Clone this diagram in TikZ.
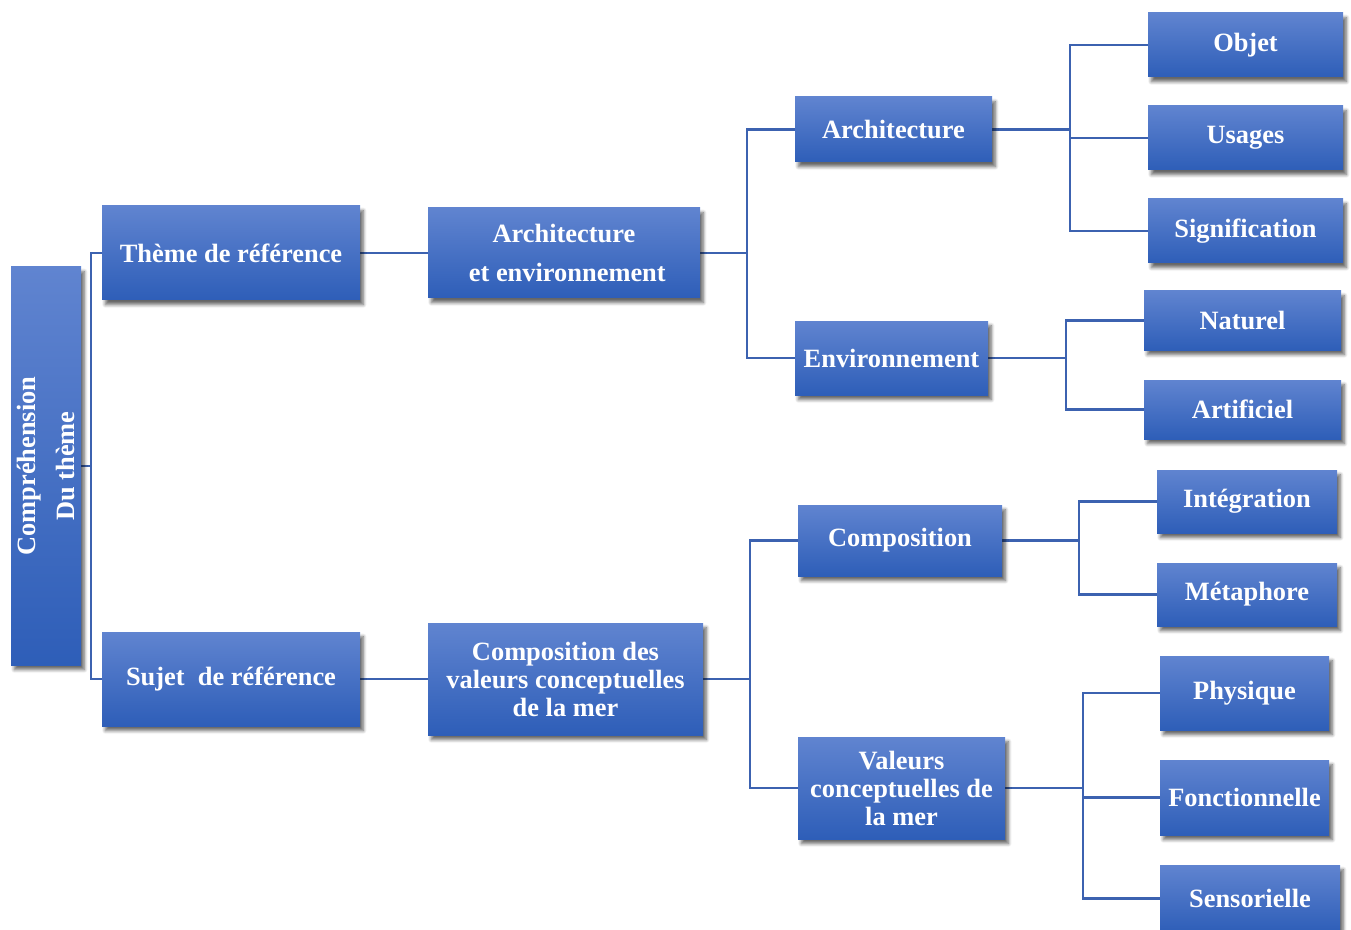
\documentclass[tikz,border=0pt]{standalone}
\usepackage{fontspec}
\setmainfont{Liberation Serif}
\usetikzlibrary{shadows.blur,backgrounds}
\definecolor{boxtop}{RGB}{96,132,208}
\definecolor{boxbot}{RGB}{46,94,184}
\definecolor{linkc}{RGB}{60,98,176}
\tikzset{
  box/.style={shade, top color=boxtop, bottom color=boxbot, draw=none,
    text=white, align=center, inner sep=0pt,
    font=\bfseries\fontsize{19.8}{21}\selectfont,
    blur shadow={shadow xshift=2.5pt, shadow yshift=-3.5pt, shadow blur steps=6,
      shadow opacity=60, shadow blur radius=2.5pt}},
  wide/.style={font=\bfseries\fontsize{19.8}{29}\selectfont},
  conn/.style={draw=linkc, line width=1.7pt}
}
% \tbox[opts]{name}{left}{top}{right}{bottom}{text}
\newcommand\tbox[7][]{%
  \node[box,#1, minimum width={(#5-#3)*0.75pt}, minimum height={(#6-#4)*0.75pt}]
    (#2) at ({(#3+#5)/2},{(#4+#6)/2}) {#7};}
\begin{document}
\begin{tikzpicture}[x=0.75pt, y=-0.75pt]
\clip (0,0) rectangle (1351,930);
\useasboundingbox (0,0) rectangle (1351,930);

% boxes
\node[box, wide, rotate=90, minimum width={398*0.75pt}, minimum height={70*0.75pt}]
  (root) at (46,466) {Compréhension\\Du thème};

\tbox{theme}{102}{206}{360}{300}{Thème de référence}
\tbox{sujet}{102}{632}{360}{726}{Sujet\ \ de référence}
\tbox[wide]{archenv}{428}{208}{700}{298}{Architecture\\\ et environnement}
\tbox{compval}{428}{623}{703}{735}{Composition des\\valeurs conceptuelles\\de la mer}

\tbox{arch}{795}{97}{992}{162}{Architecture}
\tbox{env}{795}{321}{988}{395}{Environnement}
\tbox{comp}{798}{505}{1002}{576}{Composition}
\tbox{valeurs}{798}{737}{1005}{839}{Valeurs\\conceptuelles de\\la mer}

\tbox{objet}{1148}{13}{1343}{77}{Objet}
\tbox{usages}{1148}{106}{1343}{170}{Usages}
\tbox{signif}{1148}{199}{1343}{263}{Signification}
\tbox{naturel}{1144}{291}{1341}{350}{Naturel}
\tbox{artif}{1144}{380}{1341}{439}{Artificiel}
\tbox{integ}{1157}{470}{1337}{533}{Intégration}
\tbox{meta}{1157}{563}{1337}{626}{Métaphore}
\tbox{phys}{1160}{656}{1329}{730}{Physique}
\tbox{fonc}{1160}{760}{1329}{835}{Fonctionnelle}
\tbox{sens}{1160}{865}{1340}{932}{Sensorielle}

\begin{scope}[on background layer]
  % junction points, level by level
  \path (root.south) ++(10,0) coordinate (j0);
  \path (archenv.east) ++(47,0) coordinate (j1);
  \path (compval.east) ++(47,0) coordinate (j2);
  \path (arch.east) ++(78,0) coordinate (j3);
  \path (env.east) ++(78,0) coordinate (j4);
  \path (comp.east) ++(77,0) coordinate (j5);
  \path (valeurs.east) ++(78,0) coordinate (j6);

  \draw[conn] (root.south) -- (j0);
  \draw[conn] (theme.west) -| (j0);
  \draw[conn] (sujet.west) -| (j0);
  \draw[conn] (theme.east) -- (archenv.west);
  \draw[conn] (sujet.east) -- (compval.west);

  \draw[conn] (archenv.east) -- (j1);
  \draw[conn] (arch.west) -| (j1);
  \draw[conn] (env.west) -| (j1);
  \draw[conn] (compval.east) -- (j2);
  \draw[conn] (comp.west) -| (j2);
  \draw[conn] (valeurs.west) -| (j2);

  \draw[conn] (arch.east) -- (j3);
  \draw[conn] (objet.west) -| (j3);
  \draw[conn] (usages.west) -| (j3);
  \draw[conn] (signif.west) -| (j3);
  \draw[conn] (env.east) -- (j4);
  \draw[conn] (naturel.west) -| (j4);
  \draw[conn] (artif.west) -| (j4);
  \draw[conn] (comp.east) -- (j5);
  \draw[conn] (integ.west) -| (j5);
  \draw[conn] (meta.west) -| (j5);
  \draw[conn] (valeurs.east) -- (j6);
  \draw[conn] (phys.west) -| (j6);
  \draw[conn] (fonc.west) -| (j6);
  \draw[conn] (sens.west) -| (j6);
\end{scope}
\end{tikzpicture}
\end{document}
